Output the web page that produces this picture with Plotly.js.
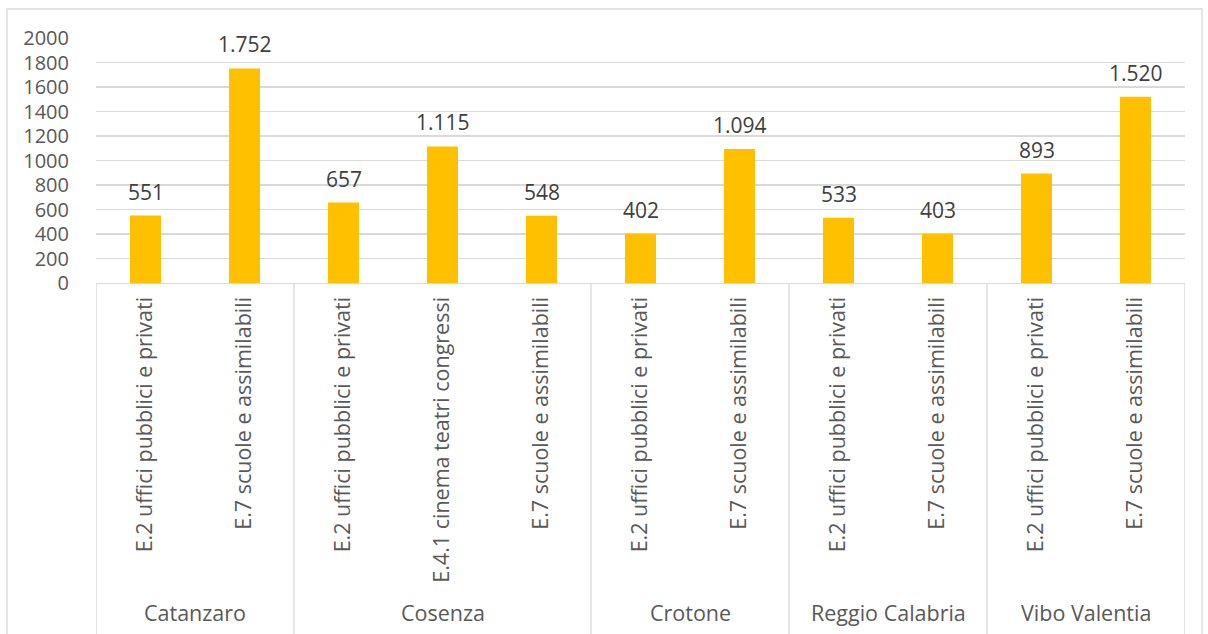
<!DOCTYPE html>
<html>
<head>
<meta charset="utf-8">
<script src="https://cdn.plot.ly/plotly-3.0.1.min.js"></script>
<style>html,body{margin:0;padding:0;background:#fff;}#chart{width:1208px;height:634px;}</style>
</head>
<body>
<div id="chart"></div>
<script>
const provinces = ["Catanzaro","Catanzaro","Cosenza","Cosenza","Cosenza","Crotone","Crotone","Reggio Calabria","Reggio Calabria","Vibo Valentia","Vibo Valentia"];
const categories = ["E.2 uffici pubblici e privati","E.7 scuole e assimilabili","E.2 uffici pubblici e privati","E.4.1 cinema teatri congressi","E.7 scuole e assimilabili","E.2 uffici pubblici e privati","E.7 scuole e assimilabili","E.2 uffici pubblici e privati","E.7 scuole e assimilabili","E.2 uffici pubblici e privati","E.7 scuole e assimilabili"];
const values = [551,1752,657,1115,548,402,1094,533,403,893,1520];
const yTicks = [0,200,400,600,800,1000,1200,1400,1600,1800,2000];

function fmt(v){ return String(v).replace(/\B(?=(\d{3})+(?!\d))/g, "."); }

const FONT = "Open Sans, sans-serif";
const TXT = "#595959";
const GRID = "#d9d9d9";

const idx = categories.map((_, i) => i);

// group boundaries and centres
const bounds = [-0.5];
const groups = [];
let start = 0;
for (let i = 1; i <= provinces.length; i++) {
  if (i === provinces.length || provinces[i] !== provinces[i-1]) {
    bounds.push(i - 0.5);
    groups.push({name: provinces[start], center: (start + i - 1) / 2});
    start = i;
  }
}

const shapes = bounds.map(b => ({type:"line", xref:"x", yref:"paper", x0:b, x1:b, y0:0, y1:-1.45, line:{color:GRID, width:1.3}}));
shapes.push({type:"rect", xref:"paper", yref:"paper", x0:-0.0817, x1:1.0156, y0:1.1184, y1:-1.5, line:{color:GRID, width:1.3}, fillcolor:"rgba(0,0,0,0)"});

const annotations = values.map((v,i) => ({x:i, y:v, xref:"x", yref:"y", text:fmt(v), showarrow:false, yanchor:"middle", yshift:24, font:{family:FONT, size:21, color:"#404040"}}));
groups.forEach(g => annotations.push({x:g.center, y:-1.343, xref:"x", yref:"paper", text:g.name, showarrow:false, yanchor:"middle", font:{family:FONT, size:21.5, color:TXT}}));

Plotly.newPlot("chart", [{
  type:"bar",
  x:idx,
  y:values,
  width:0.313,
  marker:{color:"#FFC000"},
  hoverinfo:"none"
}], {
  width:1208, height:634,
  margin:{l:96, r:23, t:38, b:351},
  paper_bgcolor:"#fff", plot_bgcolor:"#fff",
  showlegend:false,
  font:{family:FONT, size:21, color:TXT},
  xaxis:{range:[-0.5, categories.length - 0.5], tickvals:idx, ticktext:categories, tickangle:-90, showline:true, linecolor:GRID, linewidth:1.3, ticks:"outside", ticklen:4, tickcolor:"rgba(0,0,0,0)", showgrid:false, zeroline:false, tickfont:{family:FONT, size:21.5, color:TXT}},
  yaxis:{range:[0,2000], tickvals:yTicks, ticktext:yTicks.map(String), showgrid:true, gridcolor:GRID, gridwidth:1.3, zeroline:false, showline:false, ticks:"outside", ticklen:22, tickcolor:"rgba(0,0,0,0)", tickfont:{family:FONT, size:20, color:TXT}},
  shapes:shapes,
  annotations:annotations
}, {displayModeBar:false, staticPlot:true});
</script>
</body>
</html>
